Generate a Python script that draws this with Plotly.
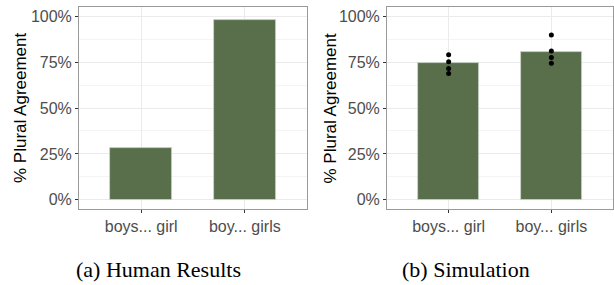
import plotly.graph_objects as go

categories = ["boys... girl", "boy... girls"]
cat_pos = [1, 2]
human_values = [0.28, 0.977]
sim_values = [0.746, 0.806]
sim_runs_girl = [0.79, 0.752, 0.715, 0.688]
sim_runs_girls = [0.898, 0.811, 0.775, 0.744]
y_ticks = [0, 0.25, 0.5, 0.75, 1.0]
y_ticklabels = ["0%", "25%", "50%", "75%", "100%"]
captions = ["(a) Human Results", "(b) Simulation"]
y_title = "% Plural Agreement"

BAR = "#596F4C"
W, H = 614, 285

fig = go.Figure()
fig.add_trace(go.Bar(x=cat_pos, y=human_values, width=0.6, marker=dict(color=BAR, line=dict(color="#CDD4C9", width=0.8)),
                     xaxis="x", yaxis="y", showlegend=False))
fig.add_trace(go.Bar(x=cat_pos, y=sim_values, width=0.6, marker=dict(color=BAR, line=dict(color="#CDD4C9", width=0.8)),
                     xaxis="x2", yaxis="y2", showlegend=False))
px_ = [cat_pos[0]] * len(sim_runs_girl) + [cat_pos[1]] * len(sim_runs_girls)
py_ = sim_runs_girl + sim_runs_girls
fig.add_trace(go.Scatter(x=px_, y=py_, mode="markers", marker=dict(color="black", size=5),
                         xaxis="x2", yaxis="y2", showlegend=False))

def xax(domain, anchor):
    return dict(domain=domain, anchor=anchor, range=[0.4, 2.6], tickvals=cat_pos, ticktext=categories,
                showgrid=True, gridcolor="#EBEBEB", gridwidth=1, zeroline=False,
                showline=True, linecolor="#9A9A9A", linewidth=1, mirror=True,
                ticks="outside", ticklen=3, tickcolor="#333333",
                tickfont=dict(family="Liberation Sans", size=16, color="#4D4D4D"), fixedrange=True)

def yax(anchor):
    return dict(domain=[1 - 209 / H, 1 - 7 / H], anchor=anchor, range=[-0.05, 1.05], tickvals=y_ticks, ticktext=y_ticklabels,
                showgrid=True, gridcolor="#EBEBEB", gridwidth=1, zeroline=False,
                minor=dict(tickvals=[0.125, 0.375, 0.625, 0.875], showgrid=True, gridcolor="#F4F4F4", gridwidth=0.6, ticks=""),
                showline=True, linecolor="#9A9A9A", linewidth=1, mirror=True,
                ticks="outside", ticklen=3, tickcolor="#333333",
                tickfont=dict(family="Liberation Sans", size=16, color="#4D4D4D"), fixedrange=True)

annotations = [
    dict(text=y_title, x=20 / W, y=1 - 108 / H, xref="paper", yref="paper", textangle=-90, showarrow=False,
         font=dict(family="Liberation Sans", size=17, color="black"), xanchor="center", yanchor="middle"),
    dict(text=y_title, x=329.5 / W, y=1 - 108 / H, xref="paper", yref="paper", textangle=-90, showarrow=False,
         font=dict(family="Liberation Sans", size=17, color="black"), xanchor="center", yanchor="middle"),
    dict(text=captions[0], x=158 / W, y=1 - 269 / H, xref="paper", yref="paper", showarrow=False,
         font=dict(family="Liberation Serif", size=22, color="black"), xanchor="center", yanchor="middle"),
    dict(text=captions[1], x=466 / W, y=1 - 269 / H, xref="paper", yref="paper", showarrow=False,
         font=dict(family="Liberation Serif", size=22, color="black"), xanchor="center", yanchor="middle"),
]

fig.update_layout(
    width=W, height=H, margin=dict(l=0, r=0, t=0, b=0),
    paper_bgcolor="white", plot_bgcolor="white",
    xaxis=xax([79 / W, 307 / W], "y"),
    yaxis=yax("x"),
    xaxis2=xax([387 / W, 613 / W], "y2"),
    yaxis2=yax("x2"),
    annotations=annotations,
    bargap=0,
)
fig.write_html("out.html", config={"displayModeBar": False},
               post_script="document.body.style.margin='0';document.body.style.overflow='hidden';")
